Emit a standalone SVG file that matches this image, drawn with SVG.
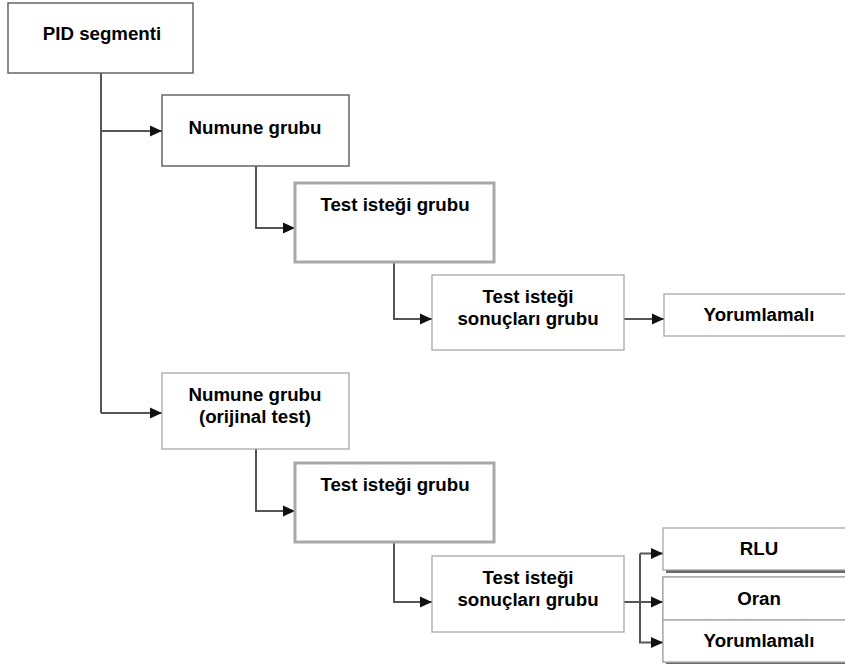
<svg xmlns="http://www.w3.org/2000/svg" width="845" height="669" viewBox="0 0 845 669">
<defs>
<style>
.t{font-family:"Liberation Sans",Arial,sans-serif;font-weight:bold;font-size:18.7px;fill:#000;text-anchor:middle}
.dk{fill:#fff;stroke:#666;stroke-width:1.5}
.th{fill:#fff;stroke:#a8a8a8;stroke-width:3}
.lt{fill:#fff;stroke:#a0a0a0;stroke-width:1.2}
.sh{fill:#6a6a6a}
.c{fill:none;stroke:#555;stroke-width:2}
</style>
<marker id="ah" viewBox="0 0 12 12" refX="12" refY="6" markerWidth="12" markerHeight="12" markerUnits="userSpaceOnUse" orient="auto">
<path d="M0,0.5 L12,6 L0,11.5 z" fill="#111"/>
</marker>
</defs>
<rect width="845" height="669" fill="#fff"/>

<g id="connectors">
<path class="c" d="M101,73 V413"/>
<path class="c" d="M101,131 H162" marker-end="url(#ah)"/>
<path class="c" d="M101,413 H162" marker-end="url(#ah)"/>
<path class="c" d="M256,166 V228 H295" marker-end="url(#ah)"/>
<path class="c" d="M394,262 V319 H432" marker-end="url(#ah)"/>
<path class="c" d="M624,319 H664" marker-end="url(#ah)"/>
<path class="c" d="M256,449 V511 H295" marker-end="url(#ah)"/>
<path class="c" d="M394,542 V602 H432" marker-end="url(#ah)"/>
<path class="c" d="M624,602 H663" marker-end="url(#ah)"/>
<path class="c" d="M640,602 V553.5"/>
<path class="c" d="M640,553.5 H663" marker-end="url(#ah)"/>
<path class="c" d="M640,602 V642.5 H663" marker-end="url(#ah)"/>
</g>

<g id="pid">
<rect class="dk" x="8" y="3" width="185" height="70"/>
<text class="t" x="102" y="40">PID segmenti</text>
</g>

<g id="numune1">
<rect class="dk" x="162" y="95" width="187" height="71"/>
<text class="t" x="255" y="134">Numune grubu</text>
</g>

<g id="test1">
<rect class="th" x="295" y="183" width="199" height="79"/>
<text class="t" x="395" y="211">Test isteği grubu</text>
</g>

<g id="sonuc1">
<rect class="lt" x="432" y="275" width="192" height="75"/>
<text class="t" x="528" y="303">Test isteği</text>
<text class="t" x="528" y="324.5">sonuçları grubu</text>
</g>

<g id="yorum1">
<rect class="lt" x="664" y="294" width="192" height="42"/>
<text class="t" x="759" y="321">Yorumlamalı</text>
</g>

<g id="numune2">
<rect class="lt" x="162" y="373" width="187" height="76"/>
<text class="t" x="255" y="401">Numune grubu</text>
<text class="t" x="255" y="423">(orijinal test)</text>
</g>

<g id="test2">
<rect class="th" x="295" y="463" width="199" height="79"/>
<text class="t" x="395" y="491">Test isteği grubu</text>
</g>

<g id="sonuc2">
<rect class="lt" x="432" y="556" width="192" height="76"/>
<text class="t" x="528" y="584">Test isteği</text>
<text class="t" x="528" y="606">sonuçları grubu</text>
</g>

<g id="rlu">
<rect class="sh" x="666" y="531" width="192" height="42"/>
<rect class="lt" x="663" y="528" width="192" height="42"/>
<text class="t" x="759" y="555">RLU</text>
</g>

<g id="oran-yorum">
<rect class="sh" x="666" y="580" width="192" height="84"/>
<rect class="lt" x="663" y="577" width="192" height="85"/>
</g>

<g id="oran">
<rect class="lt" x="663" y="577" width="192" height="43"/>
<text class="t" x="759" y="605">Oran</text>
</g>

<g id="yorum2">
<rect class="lt" x="663" y="620" width="192" height="42"/>
<text class="t" x="759" y="647">Yorumlamalı</text>
</g>
</svg>
